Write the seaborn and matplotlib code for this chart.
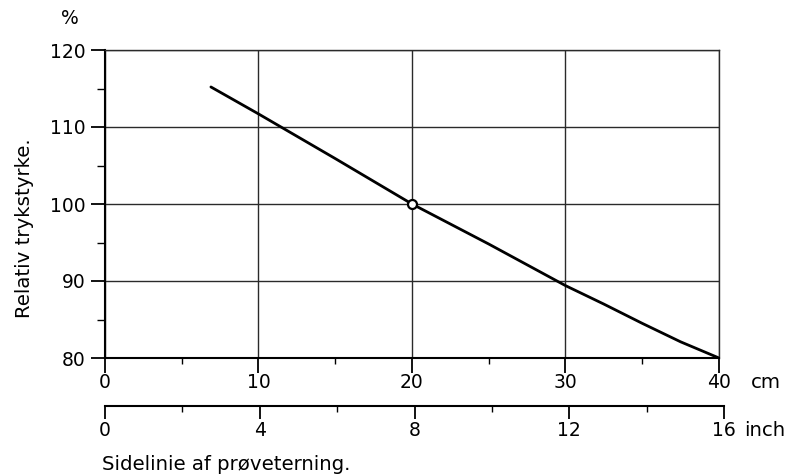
import matplotlib
matplotlib.use("Agg")
import matplotlib.pyplot as plt
import seaborn as sns
import pandas as pd
from matplotlib.ticker import MultipleLocator

# Relative compressive strength vs. side length of test cube
side_cm = [6.9, 10, 15, 20, 25, 30, 32.5, 35, 37.5, 40]
strength_pct = [115.2, 111.7, 105.9, 100.0, 94.8, 89.4, 87.0, 84.5, 82.1, 80.0]
ref_cm = [20]
ref_pct = [100.0]

cm_ticks = [0, 10, 20, 30, 40]
inch_ticks = [0, 4, 8, 12, 16]
pct_ticks = [80, 90, 100, 110, 120]

sns.set_style("white")
plt.rcParams["font.family"] = ["DejaVu Sans"]
plt.rcParams["font.size"] = 13.5
plt.rcParams["text.color"] = "black"
plt.rcParams["xtick.color"] = "black"
plt.rcParams["ytick.color"] = "black"
plt.rcParams["axes.labelcolor"] = "black"

FS = 13.5
LBL = dict(fontsize=14.2)
W, H = 793, 474
fig = plt.figure(figsize=(W / 100, H / 100), dpi=100)

def box(x0, y0, x1, y1):
    return [x0 / W, 1 - y1 / H, (x1 - x0) / W, (y1 - y0) / H]

ax = fig.add_axes(box(105, 50, 719, 358))
df = pd.DataFrame({"cm": side_cm, "pct": strength_pct})
sns.lineplot(data=df, x="cm", y="pct", ax=ax, color="black", linewidth=2.0)
sns.scatterplot(x=ref_cm, y=ref_pct, ax=ax, s=42, facecolor="white",
                edgecolor="black", linewidth=1.6, zorder=5)

ax.set_xlim(0, 40)
ax.set_ylim(80, 120)
ax.set_xticks(cm_ticks)
ax.set_xticklabels([str(t) for t in cm_ticks])
ax.set_yticks(pct_ticks)
ax.set_yticklabels([str(t) for t in pct_ticks])
ax.xaxis.set_minor_locator(MultipleLocator(5))
ax.yaxis.set_minor_locator(MultipleLocator(5))
ax.tick_params(axis="y", which="major", direction="out", length=10, width=1.3,
               pad=4, labelsize=FS, left=True)
ax.tick_params(axis="y", which="minor", direction="out", length=5.5, width=1.0, left=True)
ax.tick_params(axis="x", which="major", direction="out", length=10.5, width=1.3,
               pad=0.5, labelsize=FS, bottom=True)
ax.tick_params(axis="x", which="minor", direction="out", length=4.5, width=1.0, bottom=True)
ax.grid(True, which="major", color="#2a2a2a", linewidth=1.0)
for side in ["top", "right"]:
    ax.spines[side].set_linewidth(1.0)
    ax.spines[side].set_color("#2a2a2a")
for side in ["left", "bottom"]:
    ax.spines[side].set_linewidth(1.5)
    ax.spines[side].set_color("black")
ax.set_xlabel("")
ax.set_ylabel("")

# inch scale below the cm scale
ax2 = fig.add_axes(box(105, 405, 724, 406))
ax2.set_facecolor("none")
ax2.set_xlim(0, 16)
ax2.set_yticks([])
ax2.set_xticks(inch_ticks)
ax2.set_xticklabels([str(t) for t in inch_ticks])
ax2.xaxis.set_minor_locator(MultipleLocator(2))
for side in ["top", "left", "right"]:
    ax2.spines[side].set_visible(False)
ax2.spines["bottom"].set_linewidth(1.5)
ax2.spines["bottom"].set_color("black")
ax2.tick_params(axis="x", which="major", direction="out", length=9, width=1.3,
                pad=1.5, labelsize=FS, bottom=True)
ax2.tick_params(axis="x", which="minor", direction="out", length=4, width=1.0, bottom=True)

# unit labels and titles
fig.text(70 / W, 1 - 19 / H, "%", ha="center", va="center", fontsize=FS)
fig.text(751 / W, 1 - 383 / H, "cm", ha="left", va="center", **LBL)
fig.text(744 / W, 1 - 431 / H, "inch", ha="left", va="center", **LBL)
fig.text(25 / W, 1 - 228 / H, "Relativ trykstyrke.", rotation=90,
         ha="center", va="center", **LBL)
fig.text(102 / W, 1 - 464 / H, "Sidelinie af prøveterning.", ha="left",
         va="center", **LBL)

fig.savefig("out.png", dpi=100)
